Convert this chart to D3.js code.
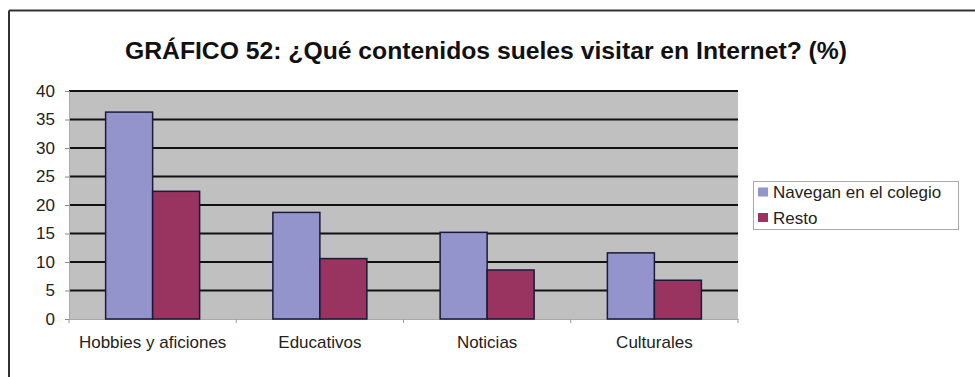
<!DOCTYPE html>
<html>
<head>
<meta charset="utf-8">
<script src="https://cdn.jsdelivr.net/npm/d3@7"></script>
<style>
  html, body { margin: 0; padding: 0; background: #ffffff; }
  svg { display: block; }
  text { font-family: "Liberation Sans", Arial, sans-serif; }
</style>
</head>
<body>
<svg id="chart" width="975" height="377"></svg>
<script>
const title = "GRÁFICO 52: ¿Qué contenidos sueles visitar en Internet? (%)";
const categories = ["Hobbies y aficiones", "Educativos", "Noticias", "Culturales"];
const seriesNames = ["Navegan en el colegio", "Resto"];
const navegan = [36.3, 18.7, 15.2, 11.6];
const resto = [22.4, 10.6, 8.6, 6.8];
const yTicks = [0, 5, 10, 15, 20, 25, 30, 35, 40];
const colors = ["#9494cc", "#993360"];

const seriesValues = [navegan, resto];
const svg = d3.select("#chart");
const W = 975, H = 377;
const FS = 17;

// outer frame (top and left lines)
svg.append("line").attr("x1", 9).attr("x2", W).attr("y1", 10.5).attr("y2", 10.5)
  .attr("stroke", "#333").attr("stroke-width", 2);
svg.append("line").attr("x1", 9).attr("x2", 9).attr("y1", 10.5).attr("y2", H)
  .attr("stroke", "#333").attr("stroke-width", 2);

// title
svg.append("text")
  .attr("x", 486).attr("y", 59)
  .attr("text-anchor", "middle")
  .attr("font-size", 23).attr("font-weight", "bold").attr("fill", "#111")
  .attr("textLength", 722).attr("lengthAdjust", "spacingAndGlyphs")
  .text(title);

const plot = { left: 69, right: 738, top: 91, bottom: 319 };

const x = d3.scaleBand().domain(categories)
  .range([plot.left, plot.right]).paddingInner(0.438).paddingOuter(0.219);
const xs = d3.scaleBand().domain(seriesNames).range([0, x.bandwidth()]);
const y = d3.scaleLinear().domain([0, 40]).range([plot.bottom, plot.top]);

// plot background
svg.append("rect")
  .attr("x", plot.left).attr("y", y(40))
  .attr("width", plot.right - plot.left).attr("height", y(0) - y(40))
  .attr("fill", "#c0c0c0");

// gridlines
svg.append("g").selectAll("line").data(yTicks.filter(d => d > 0)).join("line")
  .attr("x1", plot.left).attr("x2", plot.right)
  .attr("y1", d => y(d)).attr("y2", d => y(d))
  .attr("stroke", "#111").attr("stroke-width", 2);

// y axis
const yAxis = svg.append("g").attr("transform", `translate(${plot.left},0)`)
  .call(d3.axisLeft(y).tickValues(yTicks).tickSize(4).tickPadding(10));
yAxis.select(".domain").attr("stroke", "#aaa");
yAxis.selectAll(".tick line").attr("stroke", "#888");
yAxis.selectAll(".tick text").attr("font-size", FS).attr("fill", "#222")
  .attr("font-family", "Liberation Sans, Arial, sans-serif");

// x axis
const xAxis = svg.append("g").attr("transform", `translate(0,${plot.bottom})`)
  .call(d3.axisBottom(x).tickSize(0).tickPadding(17));
xAxis.select(".domain").attr("stroke", "#aaa");
xAxis.selectAll(".tick text").attr("font-size", FS).attr("fill", "#222")
  .attr("font-family", "Liberation Sans, Arial, sans-serif");
// category separator ticks
const bounds = d3.range(categories.length + 1).map(i => plot.left + i * x.step());
svg.append("g").selectAll("line").data(bounds).join("line")
  .attr("x1", d => d).attr("x2", d => d)
  .attr("y1", plot.bottom).attr("y2", plot.bottom + 4)
  .attr("stroke", "#999");

// bars
const groups = svg.append("g").selectAll("g").data(categories).join("g")
  .attr("transform", c => `translate(${x(c)},0)`);
groups.selectAll("rect")
  .data((c, i) => seriesNames.map((s, j) => ({ s, j, v: seriesValues[j][i] })))
  .join("rect")
  .attr("x", d => xs(d.s))
  .attr("y", d => y(d.v))
  .attr("width", xs.bandwidth())
  .attr("height", d => y(0) - y(d.v))
  .attr("fill", d => colors[d.j])
  .attr("stroke", "#1a1a3a").attr("stroke-width", 1.5);

// legend
const lg = svg.append("g");
lg.append("rect").attr("x", 753.5).attr("y", 181.5).attr("width", 205).attr("height", 48)
  .attr("fill", "#fff").attr("stroke", "#aaa").attr("stroke-width", 1);
seriesNames.forEach((s, j) => {
  const cy = 192 + j * 25.5;
  lg.append("rect").attr("x", 758).attr("y", cy - 4.5).attr("width", 10).attr("height", 9)
    .attr("fill", colors[j]);
  lg.append("text").attr("x", 773).attr("y", cy + 6)
    .attr("font-size", FS).attr("fill", "#222").text(s);
});
</script>
</body>
</html>
